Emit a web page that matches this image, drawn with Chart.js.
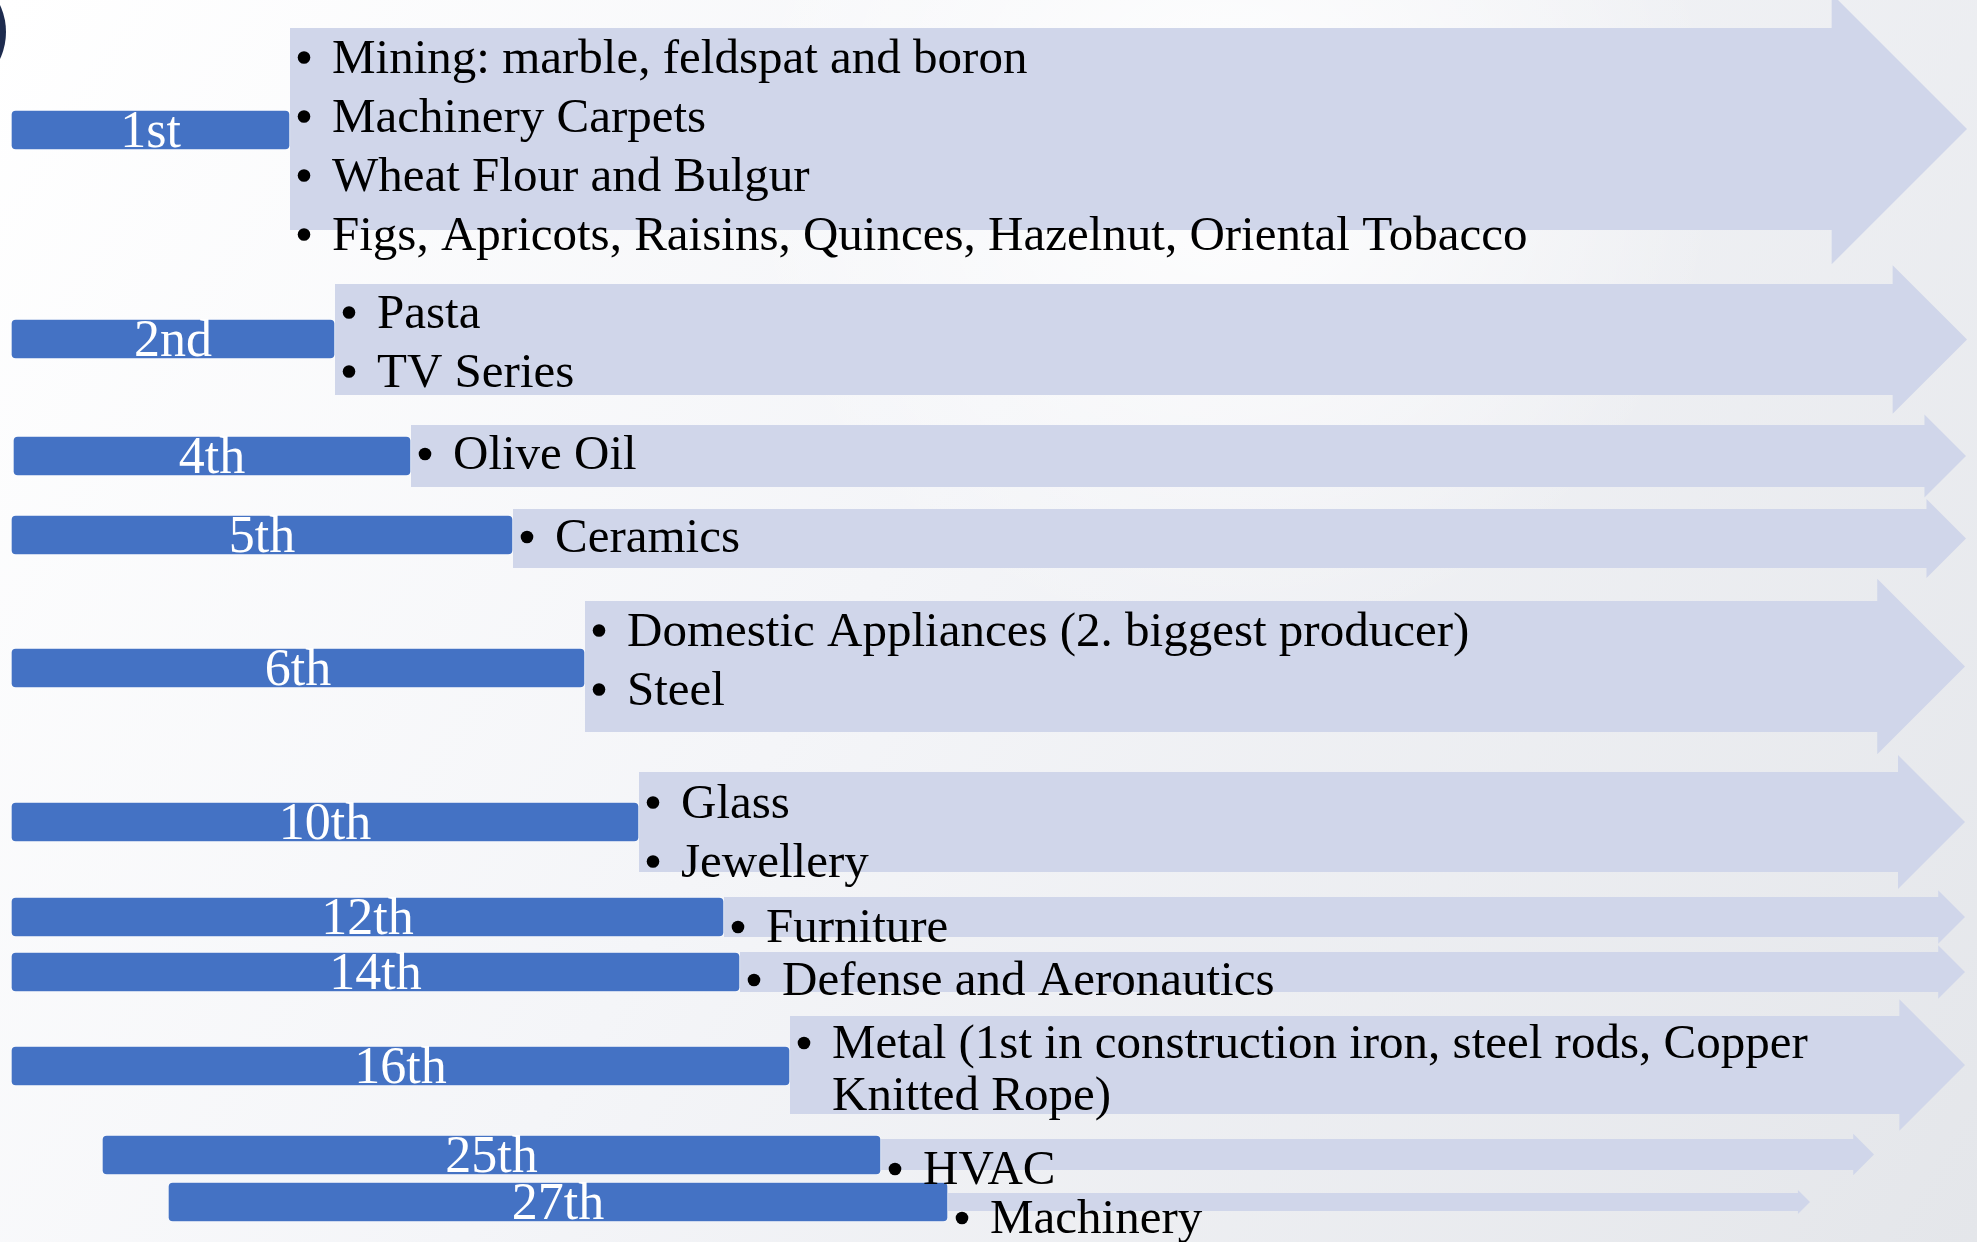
<!DOCTYPE html>
<html lang="en">
<head>
<meta charset="UTF-8">
<title>Sector rankings</title>
<script src="https://cdn.jsdelivr.net/npm/chart.js"></script>
<style>
  html, body { margin: 0; padding: 0; background: #fff; }
  #wrap { width: 1977px; height: 1242px; }
</style>
</head>
<body>
<div id="wrap"><canvas id="rankChart" width="1977" height="1242"></canvas></div>
<script>
// slide units: x 0..1977, y 0..1242 (top to bottom)
const ranks = ['1st', '2nd', '4th', '5th', '6th', '10th', '12th', '14th', '16th', '25th', '27th'];
const barStart = [11, 11, 13, 11, 11, 11, 11, 11, 11, 102, 168];
const barEnd = [290, 335, 411, 513, 585, 639, 724, 740, 790, 881, 948];
const rowY = [130, 339, 456, 535, 668, 822, 917, 972, 1066, 1155, 1202];
const bandTop = [28, 284, 425, 509, 601, 772, 897, 952, 1016, 1139, 1193];
const bandBottom = [230, 395, 487, 568, 732, 872, 937, 992, 1114, 1170, 1211];
const arrowTip = [1967, 1967, 1966, 1966, 1965, 1965, 1965, 1965, 1965, 1874, 1810];
const items = [
    ['Mining: marble, feldspat and boron', 'Machinery Carpets', 'Wheat Flour and Bulgur', 'Figs, Apricots, Raisins, Quinces, Hazelnut, Oriental Tobacco'],
    ['Pasta', 'TV Series'],
    ['Olive Oil'],
    ['Ceramics'],
    ['Domestic Appliances (2. biggest producer)', 'Steel'],
    ['Glass', 'Jewellery'],
    ['Furniture'],
    ['Defense and Aeronautics'],
    ['Metal (1st in construction iron, steel rods, Copper\nKnitted Rope)'],
    ['HVAC'],
    ['Machinery']
];

// layout
const FONT = '"Liberation Serif", "DejaVu Serif", serif';
const LINE_H = 59;      // between bullets
const WRAP_H = 52;      // wrapped line inside one bullet
const TEXT_DY = 21;     // text block centre below the bar centre
const textNudge = [10, -3, -8, -4, -14, 4, 4, 2, -3, 8, 10];

const slidePlugin = {
    id: 'slide',
    beforeDraw(chart) {
        const ctx = chart.ctx, w = chart.width, h = chart.height;
        ctx.save();
        const g = ctx.createLinearGradient(0, 0, w, h);
        g.addColorStop(0, '#ffffff');
        g.addColorStop(0.45, '#f4f5f8');
        g.addColorStop(1, '#e4e6ea');
        ctx.fillStyle = g;
        ctx.fillRect(0, 0, w, h);
        const r = ctx.createRadialGradient(w * 0.62, h * 0.12, 10, w * 0.62, h * 0.12, 500);
        r.addColorStop(0, 'rgba(255,255,255,0.9)');
        r.addColorStop(1, 'rgba(255,255,255,0)');
        ctx.fillStyle = r;
        ctx.fillRect(0, 0, w, h);
        // dark circle edge in the top-left corner
        ctx.fillStyle = '#1d2b4e';
        ctx.beginPath();
        ctx.arc(-58, 32, 64, 0, Math.PI * 2);
        ctx.fill();
        ctx.restore();
    },
    beforeDatasetsDraw(chart) {
        const ctx = chart.ctx, xs = chart.scales.x, ys = chart.scales.y;
        ctx.save();
        ctx.fillStyle = '#d0d6ea';
        ranks.forEach((r, i) => {
            const x0 = xs.getPixelForValue(barEnd[i]);
            const tip = xs.getPixelForValue(arrowTip[i]);
            const t = ys.getPixelForValue(bandTop[i]);
            const b = ys.getPixelForValue(bandBottom[i]);
            const mid = (t + b) / 2, head = (b - t) / 2 * 1.34;
            const base = tip - head;
            ctx.beginPath();
            ctx.moveTo(x0, t);
            ctx.lineTo(base, t);
            ctx.lineTo(base, mid - head);
            ctx.lineTo(tip, mid);
            ctx.lineTo(base, mid + head);
            ctx.lineTo(base, b);
            ctx.lineTo(x0, b);
            ctx.closePath();
            ctx.fill();
        });
        ctx.restore();
    },
    afterDatasetsDraw(chart) {
        const ctx = chart.ctx, xs = chart.scales.x, ys = chart.scales.y;
        const meta = chart.getDatasetMeta(0);
        ctx.save();
        ctx.font = '52px ' + FONT;
        ctx.textAlign = 'center';
        ctx.textBaseline = 'alphabetic';
        ctx.fillStyle = '#ffffff';
        meta.data.forEach((bar, i) => {
            const cx = (bar.x + bar.base) / 2;
            ctx.fillText(ranks[i], cx, bar.y + 17);
        });

        ctx.font = '49px ' + FONT;
        ctx.textAlign = 'left';
        ctx.fillStyle = '#000000';
        ranks.forEach((r, i) => {
            const lines = [];
            items[i].forEach(it => it.split('\n').forEach((s, k) => lines.push({ s, bullet: k === 0 })));
            let total = 0;
            lines.forEach((ln, k) => { if (k > 0) total += ln.bullet ? LINE_H : WRAP_H; });
            const left = xs.getPixelForValue(barEnd[i]);
            const cy = ys.getPixelForValue(rowY[i]) + TEXT_DY + textNudge[i];
            let y = cy - total / 2;
            lines.forEach((ln, k) => {
                if (k > 0) y += ln.bullet ? LINE_H : WRAP_H;
                if (ln.bullet) {
                    ctx.beginPath();
                    ctx.arc(left + 14, y - 15, 6.3, 0, Math.PI * 2);
                    ctx.fill();
                }
                ctx.fillText(ln.s, left + 42, y);
            });
        });
        ctx.restore();
    }
};

const ctx = document.getElementById('rankChart').getContext('2d');
new Chart(ctx, {
    type: 'bar',
    data: {
        datasets: [{
            data: ranks.map((r, i) => ({ x: [barStart[i], barEnd[i]], y: rowY[i] })),
            backgroundColor: '#4472c4',
            borderColor: 'rgba(255,255,255,0.75)',
            borderWidth: 1,
            borderSkipped: false,
            borderRadius: 5,
            barThickness: 40
        }]
    },
    options: {
        indexAxis: 'y',
        responsive: false,
        animation: false,
        layout: { padding: 0 },
        plugins: { legend: { display: false }, tooltip: { enabled: false } },
        scales: {
            x: { type: 'linear', min: 0, max: 1977, display: false, offset: false },
            y: { type: 'linear', min: 0, max: 1242, reverse: true, display: false, offset: false }
        }
    },
    plugins: [slidePlugin]
});
</script>
</body>
</html>
